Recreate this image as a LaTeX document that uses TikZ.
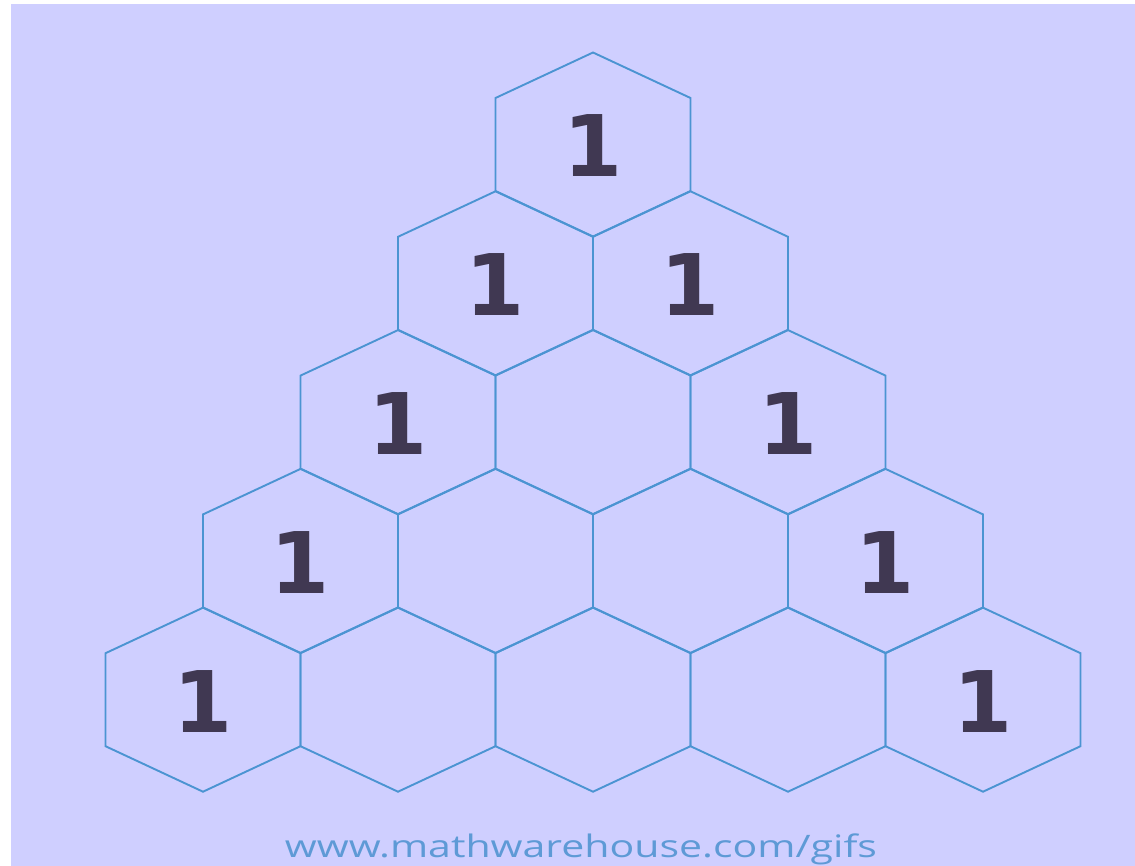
\documentclass[tikz,border=0pt]{standalone}
\usepackage{fontspec}
\setmainfont{DejaVu Sans}
\newfontfamily\wmfont{Open Sans}
\definecolor{bg}{HTML}{CFCFFF}
\definecolor{hexline}{HTML}{4B94D2}
\definecolor{digit}{HTML}{403852}
\definecolor{wmblue}{HTML}{5E9AD6}
\begin{document}
\begin{tikzpicture}[x=1pt,y=-1pt,
  hexedge/.style={draw=hexline,line width=1.9pt,line join=miter},
  num/.style={font=\fontsize{85}{85}\selectfont\bfseries, text=digit, inner sep=0pt},
  wm/.style={font=\wmfont\fontsize{31}{31}\selectfont, text=wmblue, inner sep=0pt, anchor=base}]
\useasboundingbox (0,0) rectangle (1135,866);
\fill[white] (0,0) rectangle (1135,866);
\fill[bg] (11,4) rectangle (1135,866);
\foreach \r in {0,...,4}{
  \foreach \c in {0,...,\r}{
    \pgfmathsetmacro\cx{593+(\c-\r/2)*195}
    \pgfmathsetmacro\cy{144.5+\r*138.8}
    \draw[hexedge] (\cx,\cy-92) -- (\cx+97.5,\cy-46.5) -- (\cx+97.5,\cy+46.5) -- (\cx,\cy+92) -- (\cx-97.5,\cy+46.5) -- (\cx-97.5,\cy-46.5) -- cycle;
    \coordinate (c-\r-\c) at (\cx,\cy+1.5);
  }
}
\node[num] (n00) at (c-0-0) {1};
\node[num] (n10) at (c-1-0) {1};
\node[num] (n11) at (c-1-1) {1};
\node[num] (n20) at (c-2-0) {1};
\node[num] (n22) at (c-2-2) {1};
\node[num] (n30) at (c-3-0) {1};
\node[num] (n33) at (c-3-3) {1};
\node[num] (n40) at (c-4-0) {1};
\node[num] (n44) at (c-4-4) {1};
\node[wm] (wm) at (581,857) {\resizebox{592pt}{\height}{www.mathwarehouse.com/gifs}};
\end{tikzpicture}
\end{document}
